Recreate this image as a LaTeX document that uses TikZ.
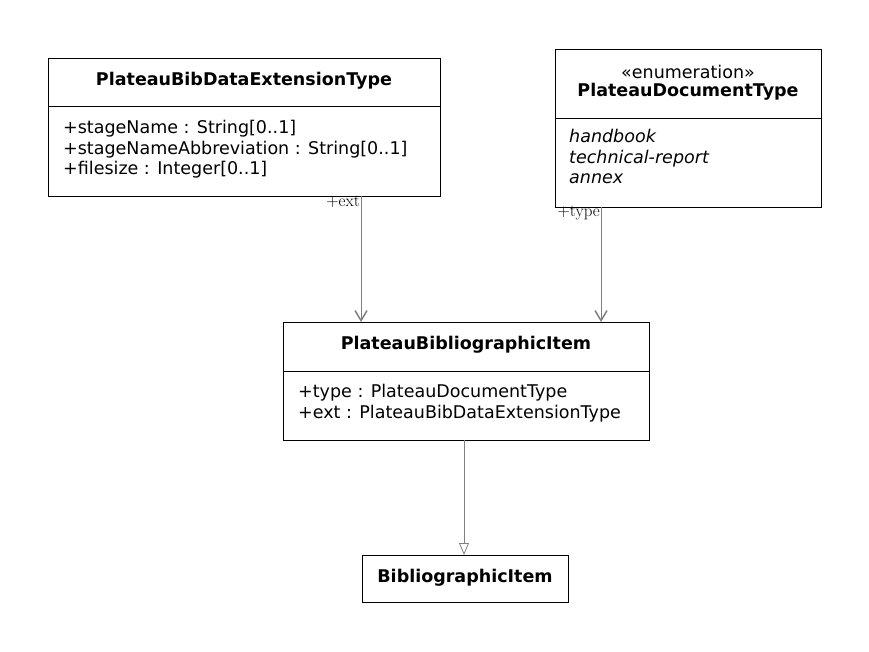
\documentclass[tikz,border=0pt]{standalone}
\usepackage{fontspec}
\setsansfont{DejaVu Sans}
\usetikzlibrary{arrows.meta}
\begin{document}
\begin{tikzpicture}[x=1pt,y=-1pt,
  box/.style={draw,line width=0.8pt,anchor=north west,inner sep=0pt},
  t/.style={font=\sffamily\fontsize{17.5}{20.5}\selectfont,inner sep=0pt},
  tb/.style={t,font=\sffamily\bfseries\fontsize{17.5}{20.5}\selectfont},
  attr/.style={t,anchor=north west,align=left},
  lab/.style={font=\fontsize{17}{18}\selectfont,inner sep=1pt},
  assoc/.style={draw=gray,line width=1pt,-{Straight Barb[length=10pt,width=12pt,line width=1.5pt]}},
  gen/.style={draw=gray,line width=0.8pt,-{Triangle[open,length=12pt,width=10pt,fill=white]}}]
\useasboundingbox (0,0) rectangle (869,651);
% A
\node[box,minimum width=392,minimum height=138] (A) at (48,58) {};
\draw (48,106) -- (440,106);
\node[tb] (An) at (244,81) {PlateauBibDataExtensionType};
\node[attr] (Aa) at (63,120) {+stageName : String[0..1]\\+stageNameAbbreviation : String[0..1]\\+filesize : Integer[0..1]};
% B
\node[box,minimum width=266,minimum height=158] (B) at (555,49) {};
\draw (555,118) -- (821,118);
\node[t] (Bs) at (688,72) {«enumeration»};
\node[tb] (Bn) at (688,92) {PlateauDocumentType};
\node[attr,font=\sffamily\itshape\fontsize{17.5}{20.5}\selectfont] (Ba) at (569,129) {handbook\\technical-report\\annex};
% C
\node[box,minimum width=366,minimum height=118] (C) at (283,322) {};
\draw (283,371) -- (649,371);
\node[tb] (Cn) at (466,345) {PlateauBibliographicItem};
\node[attr] (Ca) at (298,384) {+type : PlateauDocumentType\\+ext : PlateauBibDataExtensionType};
% D
\node[box,minimum width=206,minimum height=47] (D) at (362,555) {};
\node[tb] (Dn) at (465,578) {BibliographicItem};
% connectors
\coordinate (a1) at (361,196); \coordinate (c1) at (361,322);
\coordinate (b1) at (601,207); \coordinate (c2) at (601,322);
\coordinate (c3) at (464,440); \coordinate (d1) at (464,555);
\draw[assoc] (a1) -- (c1);
\draw[assoc] (b1) -- (c2);
\draw[gen] (c3) -- (d1);
\node[lab,anchor=north east] (le) at (361,195) {+ext};
\node[lab,anchor=north east] (lt) at (601,205) {+type};
\end{tikzpicture}
\end{document}
